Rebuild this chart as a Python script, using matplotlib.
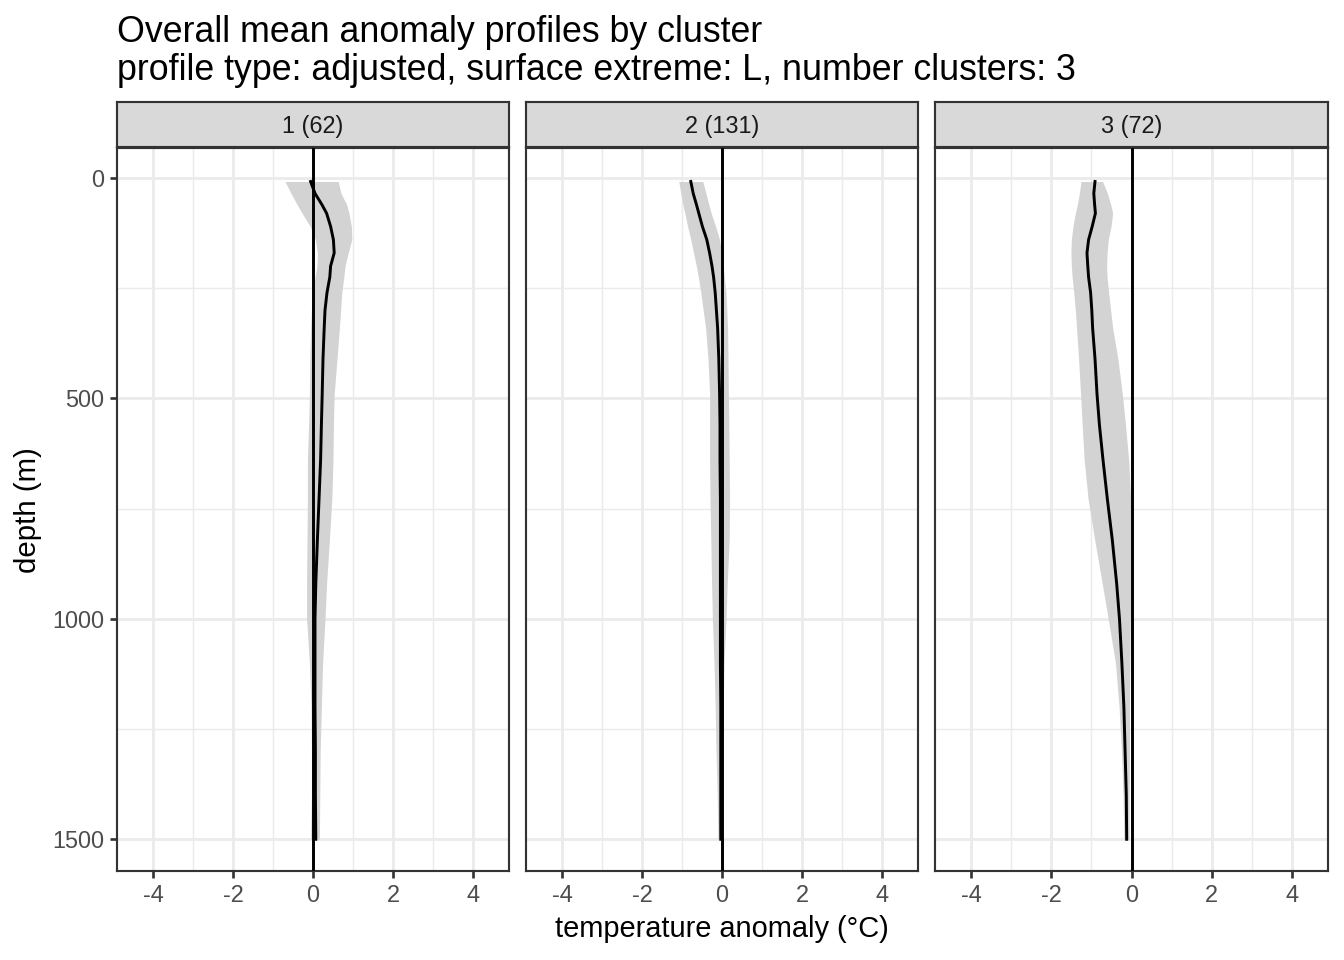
import matplotlib.pyplot as plt
import numpy as np

plt.rcParams['font.family'] = ['Liberation Sans', 'DejaVu Sans']

# depth levels (m), shared by all clusters
depth = [8, 35, 60, 80, 110, 140, 170, 200, 225, 260, 300, 340, 410, 490,
         560, 640, 730, 820, 920, 1000, 1100, 1200, 1300, 1400, 1500]

cluster_labels = ['1 (62)', '2 (131)', '3 (72)']

# cluster 1
mean_1 = [-0.06, 0.05, 0.22, 0.34, 0.44, 0.51, 0.53, 0.44, 0.42, 0.35, 0.30, 0.28, 0.25, 0.23,
          0.21, 0.19, 0.15, 0.11, 0.07, 0.05, 0.05, 0.05, 0.06, 0.06, 0.07]
low_1 = [-0.70, -0.55, -0.40, -0.27, -0.07, 0.06, 0.11, 0.10, 0.05, 0.00, -0.04, -0.06, -0.08, -0.09,
         -0.11, -0.14, -0.14, -0.15, -0.16, -0.16, -0.09, -0.05, -0.04, -0.04, -0.06]
high_1 = [0.63, 0.70, 0.84, 0.90, 0.96, 0.97, 0.88, 0.80, 0.77, 0.72, 0.69, 0.66, 0.60, 0.53,
          0.51, 0.50, 0.47, 0.41, 0.34, 0.30, 0.24, 0.21, 0.18, 0.17, 0.16]

# cluster 2
mean_2 = [-0.78, -0.72, -0.64, -0.58, -0.49, -0.38, -0.31, -0.25, -0.21, -0.17, -0.14, -0.11, -0.08, -0.06,
          -0.05, -0.05, -0.04, -0.04, -0.04, -0.04, -0.04, -0.03, -0.03, -0.03, -0.03]
low_2 = [-1.08, -1.03, -0.98, -0.93, -0.86, -0.78, -0.71, -0.64, -0.59, -0.53, -0.47, -0.41, -0.35, -0.31,
         -0.31, -0.31, -0.30, -0.28, -0.26, -0.24, -0.20, -0.17, -0.15, -0.12, -0.10]
high_2 = [-0.48, -0.40, -0.33, -0.27, -0.16, -0.06, -0.01, 0.03, 0.06, 0.10, 0.12, 0.14, 0.15, 0.16,
          0.17, 0.18, 0.19, 0.18, 0.13, 0.10, 0.05, 0.03, 0.01, 0.00, 0.00]

# cluster 3
mean_3 = [-0.91, -0.94, -0.92, -0.90, -0.98, -1.07, -1.11, -1.09, -1.07, -1.02, -0.99, -0.97, -0.91, -0.86,
          -0.80, -0.71, -0.60, -0.48, -0.37, -0.30, -0.24, -0.19, -0.16, -0.13, -0.12]
low_3 = [-1.26, -1.30, -1.35, -1.40, -1.46, -1.50, -1.51, -1.50, -1.48, -1.44, -1.40, -1.37, -1.32, -1.27,
         -1.23, -1.18, -1.08, -0.92, -0.73, -0.58, -0.40, -0.31, -0.25, -0.21, -0.19]
high_3 = [-0.72, -0.60, -0.52, -0.47, -0.51, -0.58, -0.61, -0.62, -0.61, -0.57, -0.52, -0.47, -0.34, -0.23,
          -0.15, -0.07, -0.02, 0.00, -0.01, -0.03, -0.04, -0.05, -0.05, -0.06, -0.06]

means = [mean_1, mean_2, mean_3]
lows = [low_1, low_2, low_3]
highs = [high_1, high_2, high_3]

W, H = 1344, 960
fig = plt.figure(figsize=(7, 5), dpi=192)

panel_x = [(117, 509), (526, 918), (935, 1328)]
top, bottom = 148, 871
strip_top = 102

grey20 = '#333333'
for i, (x0, x1) in enumerate(panel_x):
    ax = fig.add_axes([x0 / W, 1 - bottom / H, (x1 - x0) / W, (bottom - top) / H])
    ax.fill_betweenx(depth, lows[i], highs[i], color='#D3D3D3', lw=0, zorder=2)
    ax.plot(means[i], depth, color='black', lw=1.1, zorder=3)
    ax.axvline(0, color='black', lw=1.1, zorder=3)

    ax.set_xlim(-4.9, 4.9)
    ax.set_ylim(1572, -68)
    ax.set_xticks([-4, -2, 0, 2, 4])
    ax.set_xticklabels(['-4', '-2', '0', '2', '4'])
    ax.set_xticks([-3, -1, 1, 3], minor=True)
    ax.set_yticks([0, 500, 1000, 1500])
    ax.set_yticks([250, 750, 1250], minor=True)
    ax.grid(which='major', color='#EBEBEB', lw=1.07, zorder=0)
    ax.grid(which='minor', color='#EBEBEB', lw=0.53, zorder=0)
    ax.set_axisbelow(True)
    ax.tick_params(which='major', length=2.75, width=1.0, color=grey20,
                   labelsize=8.8, labelcolor='#4D4D4D', pad=2.2)
    ax.tick_params(which='minor', length=0)
    if i > 0:
        ax.tick_params(axis='y', which='major', length=0, labelleft=False)
    for sp in ax.spines.values():
        sp.set_color(grey20)
        sp.set_linewidth(0.8)

    # facet strip
    sax = fig.add_axes([x0 / W, 1 - (top - 1) / H, (x1 - x0) / W, (top - 1 - strip_top) / H])
    sax.set_facecolor('#D9D9D9')
    sax.set_xticks([])
    sax.set_yticks([])
    for sp in sax.spines.values():
        sp.set_color(grey20)
        sp.set_linewidth(0.8)
    sax.text(0.5, 0.45, cluster_labels[i], ha='center', va='center',
             fontsize=8.8, color='#1A1A1A', transform=sax.transAxes)

fig.text(117 / W, 1 - 42 / H, 'Overall mean anomaly profiles by cluster',
         fontsize=13.4, va='baseline', ha='left')
fig.text(117 / W, 1 - 80 / H,
         'profile type: adjusted, surface extreme: L, number clusters: 3',
         fontsize=13.4, va='baseline', ha='left')
fig.text(722 / W, 1 - 929 / H, 'temperature anomaly (°C)', fontsize=10.9,
         ha='center', va='center')
fig.text(28 / W, 1 - 510 / H, 'depth (m)', fontsize=11, rotation=90,
         ha='center', va='center')

fig.savefig('out.png', dpi=192)
